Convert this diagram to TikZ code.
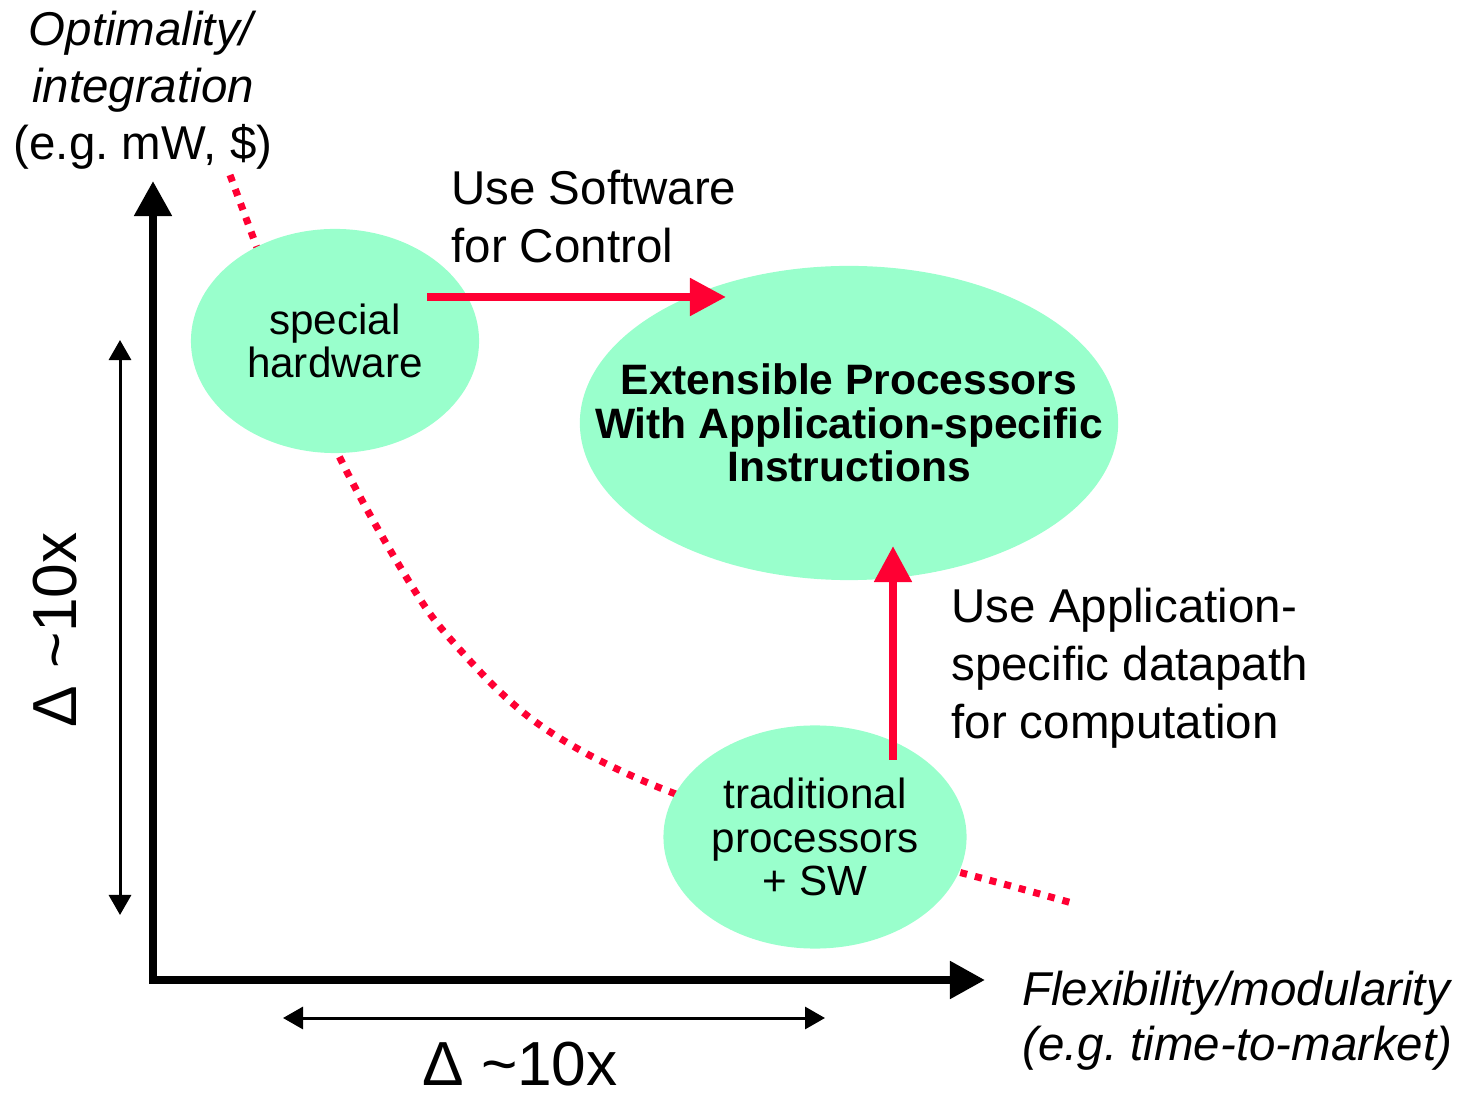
\documentclass[tikz,border=0pt]{standalone}
\usepackage{fontspec}
\setmainfont{Liberation Sans}
\usetikzlibrary{shapes.geometric,arrows.meta}
\definecolor{mint}{RGB}{153,255,204}
\definecolor{hotred}{RGB}{255,0,51}
\frenchspacing

\tikzset{
  blob/.style={ellipse, fill=mint, inner sep=0pt, align=center,
    font=\fontsize{12}{12.4}\selectfont},
  lbl/.style={align=left, font=\fontsize{13.5}{16.5}\selectfont},
  axis/.style={line width=0.08cm, {Triangle[length=0.35cm,width=0.36cm]}-{Triangle[length=0.35cm,width=0.36cm]}},
  span/.style={line width=0.03cm, {Triangle[length=0.2cm,width=0.22cm]}-{Triangle[length=0.2cm,width=0.22cm]}},
  redarrow/.style={hotred, line width=0.08cm, -{Triangle[length=0.36cm,width=0.36cm]}},
  tradeoff/.style={hotred, line width=2pt, dash pattern=on 2pt off 2.3pt}
}

\begin{document}
\begin{tikzpicture}[x=0.01cm,y=-0.01cm]
    \useasboundingbox (0,0) rectangle (1461,1095);
    % tradeoff curve, drawn under the ellipses
    \draw[tradeoff] plot[smooth, tension=0.6] coordinates {(230,175) (256,245) (295,350) (340,458) (405,575) (453,642) (537,723) (653,785) (800,833) (962,873) (1072,903)};

    \node[blob, minimum width=2.88cm, minimum height=2.24cm] (hw) at (335,341) {special\\hardware};
    \node[blob, minimum width=5.38cm, minimum height=3.14cm,
      label={[align=center, font=\fontsize{12.1}{12.4}\selectfont\bfseries]center:Extensible Processors\\With Application-specific\\Instructions}] (asip) at (849,423) {};
    \node[blob, minimum width=3.03cm, minimum height=2.23cm] (proc) at (815,837) {traditional\\processors\\+ SW};

    % axes
    \coordinate (origin) at (153,980);
    \coordinate (ytip) at (153,181);
    \coordinate (xtip) at (985,980);
    \draw[axis, miter limit=10] (ytip) -- (origin) -- (xtip);
    \node[align=center, font=\fontsize{13.5}{16.2}\selectfont] (ylbl) at (143,90) {\textit{Optimality/}\\\textit{integration}\\(e.g. mW, \$)};
    \node[align=left, anchor=west, font=\fontsize{13.5}{15.6}\selectfont\itshape] (xlbl) at (1010,1021) {Flexibility/modularity\\(e.g. time-to-market)};

    % spans
    \coordinate (vtop) at (120,340);
    \coordinate (vbot) at (120,915);
    \draw[span] (vtop) -- (vbot);
    \coordinate (hleft) at (283,1018);
    \coordinate (hright) at (825,1018);
    \draw[span] (hleft) -- (hright);
    \node[inner sep=0pt, font=\fontsize{17.7}{20}\selectfont] (hdelta) at (520,1064) {Δ \textasciitilde10x};
    \node[font=\fontsize{17.7}{20}\selectfont, rotate=90] (vdelta) at (55,630) {Δ \textasciitilde10x};

    % moves
    \coordinate (swstart) at (427,297);
    \coordinate (swend) at (726,297);
    \draw[redarrow] (swstart) -- (swend);
    \node[lbl, anchor=west] (swlbl) at (439,217) {Use Software\\for Control};
    \coordinate (dpstart) at (893,760);
    \coordinate (dpend) at (893,546);
    \draw[redarrow] (dpstart) -- (dpend);
    \node[lbl, anchor=west] (dplbl) at (939,668) {Use Application-\\specific datapath\\for computation};
\end{tikzpicture}
\end{document}
